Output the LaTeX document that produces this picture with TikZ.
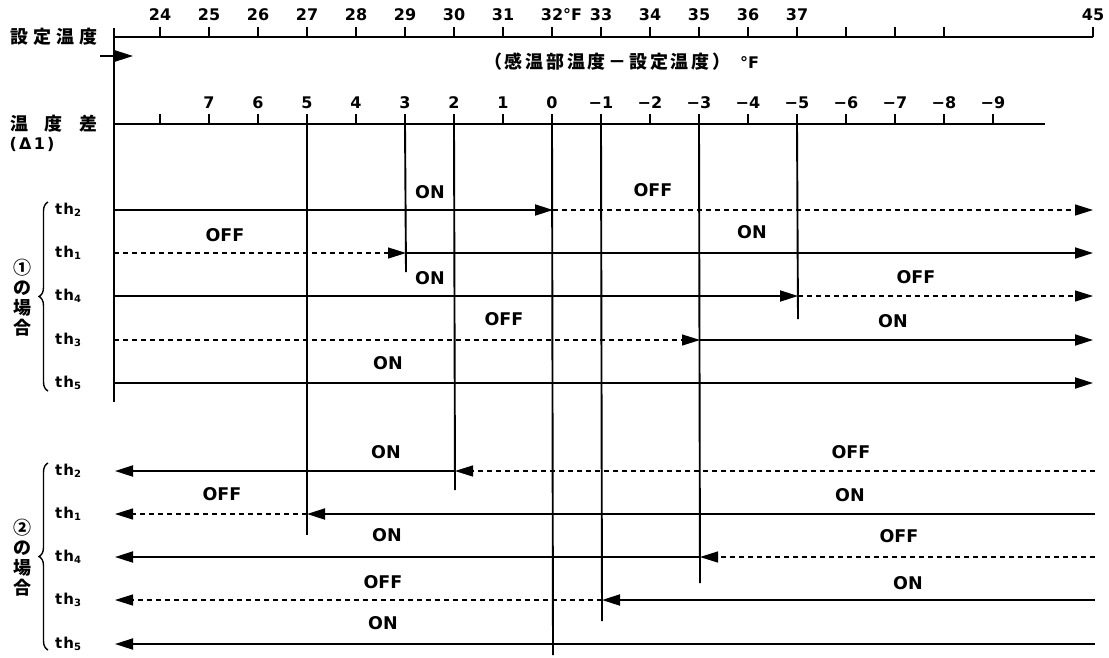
\documentclass[tikz,border=0pt]{standalone}
\usepackage{fontspec}
\setmainfont{DejaVu Sans}
\newfontfamily\cjk{Noto Sans CJK JP}
\usetikzlibrary{arrows.meta,decorations.pathreplacing}
\newcommand\thlab[1]{t\kern1pt h\raisebox{-2pt}{\fontsize{10}{10}\selectfont #1}}
\begin{document}
\begin{tikzpicture}[x=1pt,y=-1pt,
  ln/.style={line width=1.9pt},
  dsh/.style={line width=1.3pt,dash pattern=on 5pt off 4pt},
  arr/.style={-{Triangle[length=18pt,width=11pt]}},
  num/.style={font=\bfseries\fontsize{16}{16}\selectfont, inner sep=0pt},
  onoff/.style={font=\bfseries\fontsize{17.5}{17.5}\selectfont, inner sep=0pt},
  thl/.style={font=\bfseries\fontsize{15}{15}\selectfont, inner sep=0pt, anchor=west},
  jp/.style={font=\cjk\bfseries\fontsize{18}{18}\selectfont, inner sep=0pt},
  vjp/.style={font=\cjk\bfseries\fontsize{18}{20}\selectfont, inner sep=0pt, align=center},
  brc/.style={line width=1.4pt, decorate, decoration={brace, amplitude=9pt}},
]
\useasboundingbox (0,0) rectangle (1109,657);

% ---------- top scale (set temperature)
\coordinate (TL) at (114,37);
\coordinate (TR) at (1093,37);
\draw[ln] (TL) -- (TR);
\foreach \v in {24,...,40} {
  \pgfmathsetmacro\xx{160+49*(\v-24)}
  \coordinate (T\v) at (\xx,37);
  \draw[ln] (T\v) -- ++(0,-10);
}
\coordinate (T45) at (1093,37);
\draw[ln] (T45) -- ++(0,-10);
\foreach \v in {24,...,31,33,34,35,36,37,45} {
  \node[num] (TN\v) at ([yshift=22pt]T\v) {\v};
}
\node[num] (TN32) at ([yshift=22pt]T32) {32\rlap{°F}};

% ---------- left axis
\coordinate (AXt) at (114,28);
\coordinate (AXb) at (114,402);
\draw[ln] (AXt) -- (AXb);

% ---------- left labels
\node[jp] (setT) at (54,37) {\makebox[88pt][s]{設\hfill 定\hfill 温\hfill 度}};
\node[jp] (diffT) at (54,124) {\makebox[88pt][s]{温\hfill 度\hfill 差}};
\node[num] (delta) at (32,144) {\makebox[45pt][s]{(\hfill Δ\hfill 1\hfill)}};

% small arrow
\coordinate (SA) at (100,56);
\coordinate (SB) at (133,56);
\draw[ln,arr] (SA) -- (SB);

% caption
\node[jp, anchor=west] (cap) at (484,62) {\makebox[246pt][s]{（\hfill 感\hfill 温\hfill 部\hfill 温\hfill 度\hfill －\hfill 設\hfill 定\hfill 温\hfill 度\hfill ）}\hspace{10pt}{\fontspec{DejaVu Sans}\bfseries\fontsize{16}{16}\selectfont °F}};

% ---------- bottom scale (temperature difference)
\coordinate (BL) at (114,124);
\coordinate (BR) at (1045,124);
\draw[ln] (BL) -- (BR);
\foreach \k in {0,...,17} {
  \pgfmathsetmacro\xx{160+49*\k}
  \coordinate (B\k) at (\xx,124);
  \draw[ln] (B\k) -- ++(0,-10);
}
\foreach \k/\t in {1/7,2/6,3/5,4/4,5/3,6/2,7/1,8/0,9/−1,10/−2,11/−3,12/−4,13/−5,14/−6,15/−7,16/−8,17/−9} {
  \node[num] (BN\k) at ([yshift=21pt]B\k) {\t};
}

% ---------- vertical switching lines
\coordinate (V3) at (307,535);
\coordinate (V5) at (406,272);
\coordinate (V6) at (455,490);
\coordinate (V8) at (553,655);
\coordinate (V9) at (602,621);
\coordinate (V11) at (700,583);
\coordinate (V13) at (798,319);
\foreach \k in {3,5,6,8,9,11,13} { \draw[ln] (B\k) -- (V\k); }

% ---------- case 1 rows
\foreach \n/\y/\m in {1/210/553, 2/253/406, 3/296/798, 4/340/700, 5/383/553} {
  \coordinate (P\n L) at (114,\y);
  \coordinate (P\n M) at (\m,\y);
  \coordinate (P\n R) at (1093,\y);
}
\draw[ln,arr] (P1L) -- (P1M);  \draw[dsh,arr] (P1M) -- (P1R);
\draw[dsh,arr] (P2L) -- (P2M); \draw[ln,arr] (P2M) -- (P2R);
\draw[ln,arr] (P3L) -- (P3M);  \draw[dsh,arr] (P3M) -- (P3R);
\draw[dsh,arr] (P4L) -- (P4M); \draw[ln,arr] (P4M) -- (P4R);
\draw[ln,arr] (P5L) -- (P5R);

\node[onoff] (o11) at (430,192) {ON};
\node[onoff] (o12) at (653,190) {OFF};
\node[onoff] (o21) at (225,235) {OFF};
\node[onoff] (o22) at (752,232) {ON};
\node[onoff] (o31) at (430,278) {ON};
\node[onoff] (o32) at (916,277) {OFF};
\node[onoff] (o41) at (504,319) {OFF};
\node[onoff] (o42) at (893,321) {ON};
\node[onoff] (o51) at (388,363) {ON};

% ---------- case 2 rows
\foreach \n/\y/\m in {1/471/455, 2/514/307, 3/557/700, 4/600/602, 5/644/553} {
  \coordinate (Q\n L) at (115,\y);
  \coordinate (Q\n M) at (\m,\y);
  \coordinate (Q\n R) at (1095,\y);
}
\draw[dsh,arr] (Q1R) -- (Q1M); \draw[ln,arr] (Q1M) -- (Q1L);
\draw[ln,arr] (Q2R) -- (Q2M);  \draw[dsh,arr] (Q2M) -- (Q2L);
\draw[dsh,arr] (Q3R) -- (Q3M); \draw[ln,arr] (Q3M) -- (Q3L);
\draw[ln,arr] (Q4R) -- (Q4M);  \draw[dsh,arr] (Q4M) -- (Q4L);
\draw[ln,arr] (Q5R) -- (Q5L);

\node[onoff] (p11) at (386,452) {ON};
\node[onoff] (p12) at (851,452) {OFF};
\node[onoff] (p21) at (222,494) {OFF};
\node[onoff] (p22) at (850,495) {ON};
\node[onoff] (p31) at (387,535) {ON};
\node[onoff] (p32) at (899,536) {OFF};
\node[onoff] (p41) at (383,582) {OFF};
\node[onoff] (p42) at (908,583) {ON};
\node[onoff] (p51) at (383,623) {ON};

% ---------- row labels
\foreach \n/\y/\s in {1/210/2, 2/253/1, 3/296/4, 4/340/3, 5/383/5} {
  \node[thl] (A\n) at (55,\y) {\thlab{\s}};
}
\foreach \n/\y/\s in {1/471/2, 2/514/1, 3/557/4, 4/600/3, 5/644/5} {
  \node[thl] (C\n) at (55,\y) {\thlab{\s}};
}

% ---------- braces and case labels
\coordinate (BR1a) at (48,391); \coordinate (BR1b) at (48,202);
\coordinate (BR2a) at (48,650); \coordinate (BR2b) at (48,463);
\draw[brc] (BR1a) -- (BR1b);
\draw[brc] (BR2a) -- (BR2b);
\node[vjp] (case1) at (22,298) {①\\の\\場\\合};
\node[vjp] (case2) at (22,558) {②\\の\\場\\合};
\end{tikzpicture}
\end{document}
